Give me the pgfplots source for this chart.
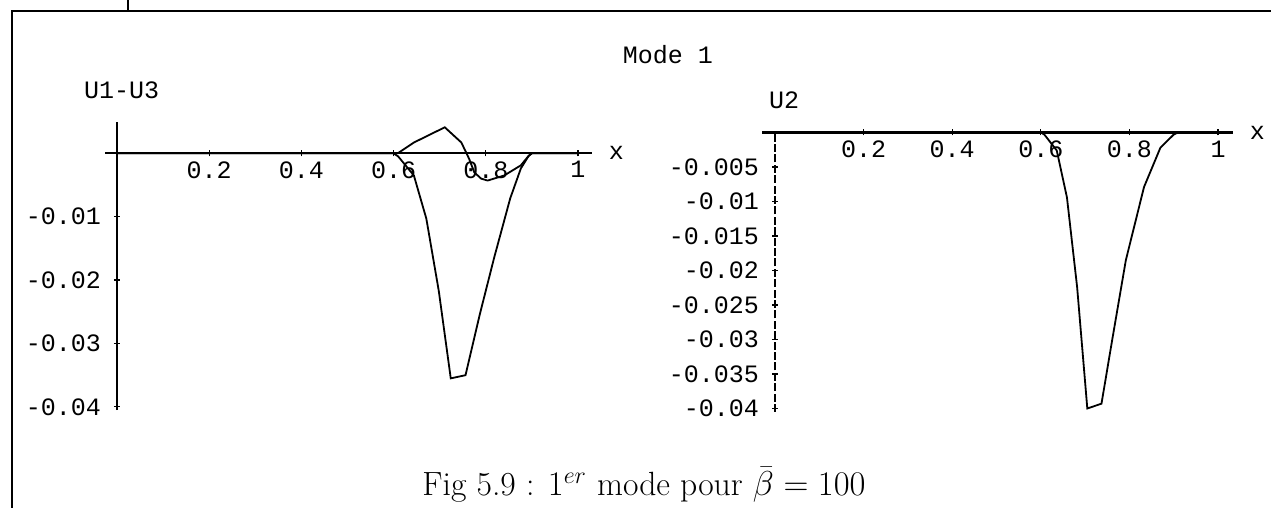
\documentclass[border=0pt]{standalone}
\usepackage{fontspec}
\setmonofont{Liberation Mono}
\usepackage{pgfplots}
\pgfplotsset{compat=1.18}

\newcommand\plotfont{\fontsize{12.5}{13}\selectfont\ttfamily}

\pgfplotsset{
  modeplot/.style={
    anchor=origin,
    axis lines=middle,
    axis line style={-,line width=1.1pt},
    tick style={black,line width=0.6pt},
    major tick length=3pt,
    scaled ticks=false,
    tick label style={font=\plotfont},
    xticklabel style={yshift=1pt},
    yticklabel style={xshift=-3pt},
    xlabel={x},
    every axis x label/.style={at={(current axis.right of origin)},anchor=west,
      font=\plotfont,xshift=5pt},
    xtick={0.2,0.4,0.6,0.8,1},
    xticklabels={0.2,0.4,0.6,0.8,1},
    clip=false,
  }
}

\begin{document}
\begin{tikzpicture}[x=0.5pt,y=0.5pt]
  \useasboundingbox (0,0) rectangle (1271,508);

  % frame of the scanned page
  \draw[line width=1pt] (12,0) -- (12,497) -- (1271,497);
  \draw[line width=1pt] (128,498) -- (128,508);

  \node[font=\plotfont] at (668,453) {Mode 1};

  % left: U1-U3
  \begin{axis}[modeplot, at={(58.5pt,177.35pt)},
               x=230.5pt, y=3170pt,
               xmin=-0.026, xmax=1.03, ymin=-0.0405, ymax=0.005,
               ytick={-0.04,-0.03,-0.02,-0.01},
               yticklabels={-0.04,-0.03,-0.02,-0.01}]
    \addplot[black,line width=0.9pt] coordinates {
      (0,0) (0.60,0) (0.61,-0.0005) (0.644,-0.0035) (0.671,-0.0103)
      (0.698,-0.0217) (0.724,-0.0355) (0.756,-0.0350) (0.787,-0.0254)
      (0.818,-0.0165) (0.853,-0.0071) (0.876,-0.0024) (0.893,-0.0004)
      (0.90,0) (1.0,0)};
    \addplot[black,line width=0.9pt] coordinates {
      (0,0) (0.60,0) (0.609,0) (0.644,0.0017) (0.711,0.0041)
      (0.747,0.0017) (0.764,-0.0009) (0.775,-0.0030) (0.790,-0.0040)
      (0.804,-0.0043) (0.840,-0.0035) (0.876,-0.0019) (0.893,-0.0004)
      (0.90,0) (1.0,0)};
  \end{axis}
  \node[font=\plotfont,anchor=west] at (77,418) {U1-U3};

  % right: U2
  \begin{axis}[modeplot, at={(387.5pt,187.75pt)},
               x=221.5pt, y=3450pt,
               xmin=-0.029, xmax=1.033, ymin=-0.0405, ymax=0,
               y axis line style={line width=0.8pt,dash pattern=on 4pt off 1.2pt},
               ytick={-0.04,-0.035,-0.03,-0.025,-0.02,-0.015,-0.01,-0.005},
               yticklabels={-0.04,-0.035,-0.03,-0.025,-0.02,-0.015,-0.01,-0.005}]
    \addplot[black,line width=0.9pt] coordinates {
      (0,0) (0.60,0) (0.608,-0.0003) (0.636,-0.0026) (0.659,-0.0094)
      (0.682,-0.0224) (0.705,-0.0400) (0.737,-0.0393) (0.760,-0.0305)
      (0.792,-0.0185) (0.833,-0.0079) (0.870,-0.0022) (0.900,-0.0003)
      (0.91,0) (1.0,0)};
  \end{axis}
  \node[font=\plotfont,anchor=west] at (762,408) {U2};

  \node[font=\fontsize{16.8}{20}\selectfont,anchor=base] at (644,12)
    {Fig 5.9 : $1^{er}$ mode pour $\bar{\beta}=100$};
\end{tikzpicture}
\end{document}
